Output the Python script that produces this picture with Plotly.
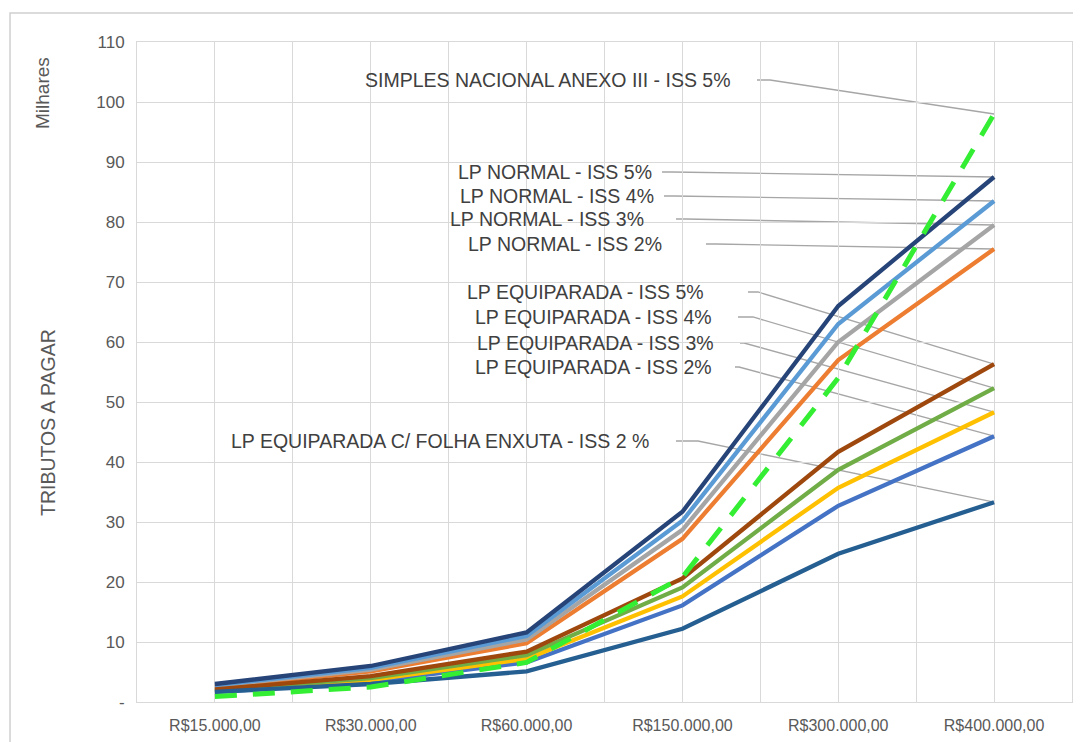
import plotly.graph_objects as go

# ---------------- data ----------------
categories = ["R$15.000,00", "R$30.000,00", "R$60.000,00",
              "R$150.000,00", "R$300.000,00", "R$400.000,00"]

lp_normal_iss2 = [2.5, 5.1, 9.8, 27.2, 57.0, 75.5]
lp_normal_iss3 = [2.7, 5.4, 10.4, 28.7, 60.0, 79.5]
lp_normal_iss4 = [2.8, 5.7, 11.0, 30.2, 63.0, 83.5]
lp_normal_iss5 = [3.0, 6.0, 11.6, 31.7, 66.0, 87.5]
lp_equip_iss2 = [1.65, 3.4, 6.6, 16.1, 32.7, 44.3]
lp_equip_iss3 = [1.8, 3.7, 7.2, 17.6, 35.7, 48.3]
lp_equip_iss4 = [1.95, 4.0, 7.8, 19.1, 38.7, 52.3]
lp_equip_iss5 = [2.1, 4.3, 8.4, 20.6, 41.7, 56.3]
lp_equip_folha_iss2 = [1.7, 3.0, 5.1, 12.2, 24.7, 33.3]
simples_anexo3_iss5 = [0.9, 2.5, 6.6, 20.8, 54.0, 98.0]

y_tick_values = [0, 10, 20, 30, 40, 50, 60, 70, 80, 90, 100, 110]
y_tick_labels = ["-", "10", "20", "30", "40", "50", "60", "70", "80", "90", "100", "110"]

# ---------------- layout constants ----------------
W, H = 1081, 742
OFF = 8                                   # page body margin in the browser
PL, PR, PT, PB = 137 - OFF, 1072 - OFF, 42 - OFF, 702 - OFF   # plot area (figure px)
XMIN, XMAX, YMIN, YMAX = -0.5, 5.5, 0, 110


def dx(px):
    """screen px -> data x"""
    return XMIN + (px - OFF - PL) / (PR - PL) * (XMAX - XMIN)


def dy(py):
    """screen px -> data y"""
    return YMIN + (PB - (py - OFF)) / (PB - PT) * (YMAX - YMIN)


def paper_x(px):
    return (px - OFF - PL) / (PR - PL)


def paper_y(py):
    return (PB - (py - OFF)) / (PB - PT)


FONT = "Liberation Sans, Arial, sans-serif"
TXT = "#404040"
AX = "#595959"
GRID = "#D9D9D9"

series = [
    ("LP NORMAL - ISS 2%", lp_normal_iss2, "#ED7D31", None),
    ("LP NORMAL - ISS 3%", lp_normal_iss3, "#A5A5A5", None),
    ("LP NORMAL - ISS 4%", lp_normal_iss4, "#5B9BD5", None),
    ("LP NORMAL - ISS 5%", lp_normal_iss5, "#264478", None),
    ("LP EQUIPARADA - ISS 2%", lp_equip_iss2, "#4472C4", None),
    ("LP EQUIPARADA - ISS 3%", lp_equip_iss3, "#FFC000", None),
    ("LP EQUIPARADA - ISS 4%", lp_equip_iss4, "#70AD47", None),
    ("LP EQUIPARADA - ISS 5%", lp_equip_iss5, "#9E480E", None),
    ("LP EQUIPARADA C/ FOLHA ENXUTA - ISS 2 %", lp_equip_folha_iss2, "#255E91", None),
    ("SIMPLES NACIONAL ANEXO III - ISS 5%", simples_anexo3_iss5, "#33EE33", "22px,16px"),
]

fig = go.Figure()
xs = list(range(len(categories)))
for name, vals, color, dash in series:
    fig.add_trace(go.Scatter(
        x=xs, y=vals, mode="lines", name=name,
        line=dict(color=color, width=5 if dash else 4.3, dash=dash or "solid"),
        showlegend=False, hoverinfo="skip",
    ))

# labels: (text, series values, text right edge px, text centre py, leader start px, bend px)
labels = [
    ("SIMPLES NACIONAL ANEXO III - ISS 5%", simples_anexo3_iss5, 733, 80, 757, 770),
    ("LP NORMAL - ISS 5%", lp_normal_iss5, 654, 172, 662, 672),
    ("LP NORMAL - ISS 4%", lp_normal_iss4, 656, 196, 664, 674),
    ("LP NORMAL - ISS 3%", lp_normal_iss3, 646, 219, 676, 686),
    ("LP NORMAL - ISS 2%", lp_normal_iss2, 664, 244, 706, 716),
    ("LP EQUIPARADA - ISS 5%", lp_equip_iss5, 706, 292, 748, 758),
    ("LP EQUIPARADA - ISS 4%", lp_equip_iss4, 714, 317, 738, 753),
    ("LP EQUIPARADA - ISS 3%", lp_equip_iss3, 716, 343, 740, 744),
    ("LP EQUIPARADA - ISS 2%", lp_equip_iss2, 714, 367, 735, 739),
    ("LP EQUIPARADA C/ FOLHA ENXUTA - ISS 2 %", lp_equip_folha_iss2, 651, 441, 676, 698),
]

shapes = []
annotations = []
for text, vals, tx_right, ty, lx0, lx1 in labels:
    end_x, end_y = xs[-1], vals[-1]
    path = "M {:.4f},{:.4f} L {:.4f},{:.4f} L {:.4f},{:.4f}".format(
        dx(lx0), dy(ty), dx(lx1), dy(ty), end_x, end_y)
    shapes.append(dict(type="path", path=path, xref="x", yref="y",
                       line=dict(color="#A6A6A6", width=1.3), layer="below"))
    annotations.append(dict(
        x=dx(tx_right), y=dy(ty), xref="x", yref="y", text=text,
        showarrow=False, xanchor="right", yanchor="middle",
        font=dict(family=FONT, size=19.5, color=TXT),
    ))

# axis titles
annotations.append(dict(
    x=paper_x(42), y=paper_y(93), xref="paper", yref="paper", text="Milhares",
    showarrow=False, textangle=-90, xanchor="center", yanchor="middle",
    font=dict(family=FONT, size=19, color=AX),
))
annotations.append(dict(
    x=paper_x(48), y=paper_y(423), xref="paper", yref="paper", text="TRIBUTOS A PAGAR",
    showarrow=False, textangle=-90, xanchor="center", yanchor="middle",
    font=dict(family=FONT, size=19.5, color=AX),
))

# chart frame (outer border)
shapes.append(dict(
    type="path", xref="paper", yref="paper",
    path="M {:.4f},{:.4f} L {:.4f},{:.4f} L {:.4f},{:.4f}".format(
        paper_x(10), paper_y(W), paper_x(10), paper_y(13), paper_x(W + 20), paper_y(13)),
    line=dict(color="#D0D0D0", width=1.5),
))

fig.update_layout(
    width=W, height=H,
    margin=dict(l=PL, r=W - PR, t=PT, b=H - PB),
    paper_bgcolor="white", plot_bgcolor="white",
    shapes=shapes, annotations=annotations,
    showlegend=False,
    xaxis=dict(
        range=[XMIN, XMAX], tickvals=xs, ticktext=categories,
        tickfont=dict(family=FONT, size=16, color=AX),
        showgrid=True, gridcolor=GRID, gridwidth=1,
        minor=dict(tickvals=[i + 0.5 for i in range(-1, len(categories))],
                   showgrid=True, gridcolor=GRID, gridwidth=1),
        showline=True, linecolor=GRID, linewidth=1, mirror=True,
        ticks="", zeroline=False, fixedrange=True, ticklabelstandoff=9,
    ),
    yaxis=dict(
        range=[YMIN, YMAX], tickvals=y_tick_values, ticktext=y_tick_labels,
        tickfont=dict(family=FONT, size=17, color=AX),
        showgrid=True, gridcolor=GRID, gridwidth=1,
        showline=True, linecolor=GRID, linewidth=1, mirror=True,
        ticks="", zeroline=False, fixedrange=True, ticklabelstandoff=8,
    ),
)

fig.write_html("out.html")
